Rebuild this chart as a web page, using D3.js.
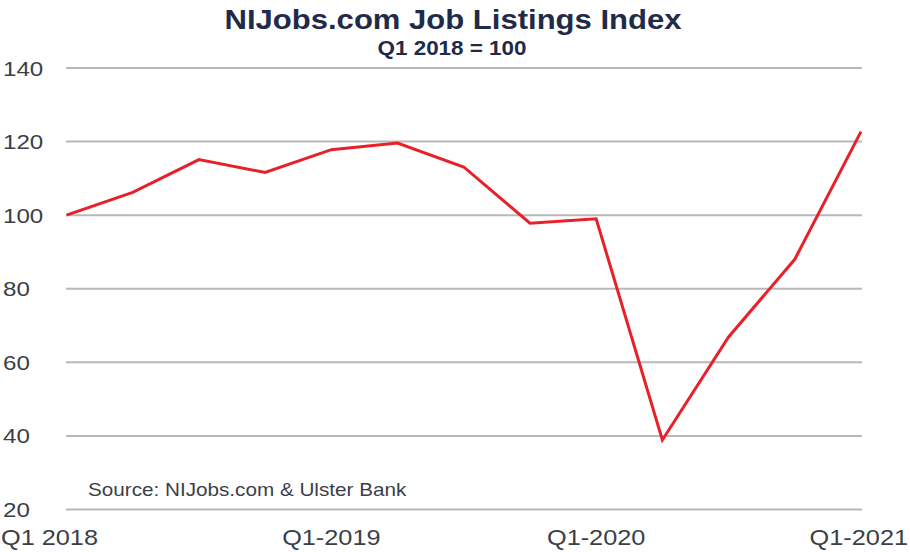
<!DOCTYPE html>
<html><head><meta charset="utf-8">
<script src="https://cdn.jsdelivr.net/npm/d3@7"></script>
<style>
html,body{margin:0;padding:0;background:#fff;}
text{font-family:"Liberation Sans",Arial,sans-serif;}
</style></head>
<body><svg id="c" width="910" height="552"></svg>
<script>
const quarters = ["Q1 2018","Q2 2018","Q3 2018","Q4 2018","Q1 2019","Q2 2019","Q3 2019","Q4 2019","Q1 2020","Q2 2020","Q3 2020","Q4 2020","Q1 2021"];
const indexValues = [100, 106.2, 115.1, 111.6, 117.8, 119.6, 113.1, 97.8, 99.0, 38.9, 66.9, 88.0, 122.7];
const yTicks = [20, 40, 60, 80, 100, 120, 140];
const xTickLabels = [["Q1 2018",0],["Q1-2019",4],["Q1-2020",8],["Q1-2021",12]];
const titleText = "NIJobs.com Job Listings Index";
const subtitleText = "Q1 2018 = 100";
const sourceText = "Source: NIJobs.com & Ulster Bank";

const SX = 1.15;
const svg = d3.select("#c");
const x = d3.scalePoint().domain(quarters).range([66.5, 861]);
const y = d3.scaleLinear().domain([20, 140]).range([509.5, 68]);

function stext(g, px, py, str, size, weight, color, anchor){
  return g.append("text")
    .attr("transform", `translate(${px},${py}) scale(${SX},1)`)
    .attr("text-anchor", anchor)
    .attr("font-size", size).attr("font-weight", weight)
    .attr("fill", color).text(str);
}

// gridlines
svg.append("g").selectAll("line").data(yTicks).join("line")
  .attr("x1", 66).attr("x2", 862)
  .attr("y1", d => y(d)).attr("y2", d => y(d))
  .attr("stroke", "#b8b8b8").attr("stroke-width", 2);

// y labels
const yl = svg.append("g");
yTicks.forEach(t => stext(yl, 3, y(t) + 7.5, String(t), 21, "normal", "#3b3f48", "start"));

// x labels
const xl = svg.append("g");
xTickLabels.forEach(([lab, i]) => {
  const px = x(quarters[i]);
  if (i === 0) stext(xl, 1, 545, lab, 22, "normal", "#3b3f48", "start");
  else if (i === 12) stext(xl, 908, 545, lab, 22, "normal", "#3b3f48", "end");
  else stext(xl, px, 545, lab, 22, "normal", "#3b3f48", "middle");
});

// line
svg.append("path").datum(indexValues)
  .attr("fill", "none").attr("stroke", "#e8202a").attr("stroke-width", 3)
  .attr("stroke-linejoin", "miter")
  .attr("d", d3.line().x((d,i) => x(quarters[i])).y(d => y(d)));

// title
stext(svg, 453, 29, titleText, 27, "bold", "#1f2b48", "middle");
stext(svg, 452, 55, subtitleText, 19.5, "bold", "#1f2b48", "middle");
stext(svg, 88, 496, sourceText, 18, "normal", "#3b3f48", "start");
</script></body></html>
